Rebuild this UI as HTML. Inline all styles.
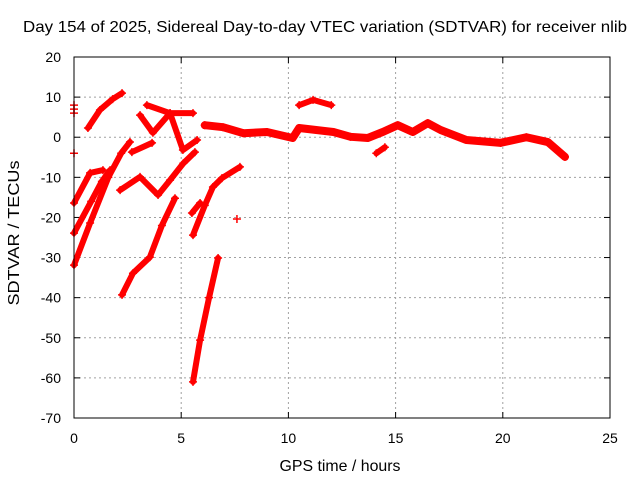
<!DOCTYPE html>
<html><head><meta charset="utf-8"><style>
html,body{margin:0;padding:0;background:#fff;}
svg{display:block;font-family:"Liberation Sans",sans-serif;}
</style></head><body>
<svg id="chart" width="640" height="480">
<text x="325" y="32" font-size="16" text-anchor="middle" textLength="604" lengthAdjust="spacingAndGlyphs">Day 154 of 2025, Sidereal Day-to-day VTEC variation (SDTVAR) for receiver nlib</text>
<text x="340" y="471" font-size="16" text-anchor="middle" textLength="121" lengthAdjust="spacingAndGlyphs">GPS time / hours</text>
<text transform="translate(19,233) rotate(-90)" font-size="16" text-anchor="middle" textLength="145" lengthAdjust="spacingAndGlyphs">SDTVAR / TECUs</text>
<g id="grid"></g><g id="axes"></g><g id="marks"></g>
<rect x="74" y="57" width="536" height="361" fill="none" stroke="#000" stroke-width="1"/>
</svg>
<script>
const xTicks=[0,5,10,15,20,25];
const yTicks=[20,10,0,-10,-20,-30,-40,-50,-60,-70];
const track1=[[0.65,2.3],[1.21,6.8],[1.8,9.5],[2.24,11]];
const track2=[[0,-31.9],[0.75,-21.4],[1.6,-10],[2.2,-4],[2.61,-1.2]];
const track3=[[0,-23.9],[0.8,-16],[1.3,-11],[1.68,-8.2]];
const track4=[[0,-16.4],[0.75,-8.9],[1.35,-8.2]];
const track5=[[0,8],[0,7],[0,6],[0,-4]];
const track6=[[2.15,-13.2],[3.08,-9.9],[3.92,-14.4],[4.48,-10.7],[5.1,-6.5],[5.64,-3.7]];
const track7=[[2.7,-3.7],[3.64,-1.4]];
const track8=[[3.4,8.0],[4.48,6.0],[5.55,6.0]];
const track8b=[[3.08,5.5],[3.68,1.1],[4.48,6.0],[5.08,-3.2],[5.74,-0.7]];
const track9=[[2.24,-39.3],[2.75,-33.9],[3.54,-29.9],[4.1,-22],[4.71,-15.2]];
const track10=[[5.55,-24.4],[6.1,-17],[6.48,-12.4],[6.9,-10.2],[7.74,-7.4]];
const track11=[[5.5,-18.9],[5.88,-16.4]];
const track12=[[7.6,-20.4]];
const track13=[[5.55,-61.0],[5.88,-50.6],[6.3,-40],[6.72,-30.1]];
const track14=[[6.1,3.0],[6.95,2.5],[7.9,1.0],[9.0,1.3],[10.2,-0.2],[10.5,2.3],[12.1,1.3],[12.9,0.1],[13.7,-0.2],[14.4,1.3],[15.1,3.0],[15.8,1.3],[16.5,3.5],[17.1,1.8],[18.3,-0.7],[19.9,-1.4],[21.1,0.0],[22.1,-1.2],[22.9,-4.9]];
const track15=[[10.5,8.0],[11.15,9.3],[12.0,8.0]];
const track16=[[14.1,-4.0],[14.5,-2.5]];
const tracks=[track1,track2,track3,track4,track5,track6,track7,track8,track8b,track9,track10,track11,track12,track13,track14,track15,track16];
const scatterOnly=[track5,track12];

const X0=74,X1=610,Y0=418,Y1=57;
function xs(v){return X0+(v-0)/(25-0)*(X1-X0);}
function ys(v){return Y0-(v-(-70))/(20-(-70))*(Y0-Y1);}
const NS="http://www.w3.org/2000/svg";
function mk(tag,attrs,parent){const e=document.createElementNS(NS,tag);for(const k in attrs)e.setAttribute(k,attrs[k]);parent.appendChild(e);return e;}
const grid=document.getElementById('grid'),axes=document.getElementById('axes'),marks=document.getElementById('marks');
xTicks.forEach(t=>{
 const x=xs(t);
 if(t>0&&t<25){const g=mk('line',{x1:x,x2:x,y1:Y1,y2:Y0,stroke:'#a0a0a0','stroke-dasharray':'2,3'},grid);
 
 }
 mk('line',{x1:x,x2:x,y1:Y0,y2:Y0-6,stroke:'#000'},axes);
 mk('line',{x1:x,x2:x,y1:Y1,y2:Y1+6,stroke:'#000'},axes);
 const l=mk('text',{x:x,y:443,'font-size':14,'text-anchor':'middle'},axes);l.textContent=t;
 
 
});
yTicks.forEach(t=>{
 const y=ys(t);
 if(t<20&&t>-70){const g=mk('line',{x1:X0,x2:X1,y1:y,y2:y,stroke:'#a0a0a0','stroke-dasharray':'2,3'},grid);
 
 }
 mk('line',{x1:X0,x2:X0+6,y1:y,y2:y,stroke:'#000'},axes);
 mk('line',{x1:X1,x2:X1-6,y1:y,y2:y,stroke:'#000'},axes);
 const l=mk('text',{x:61,y:y+5,'font-size':14,'text-anchor':'end'},axes);l.textContent=t;
 
 
});
tracks.forEach((tr,i)=>{
 const g=mk('g',{},marks);
 
 
 if(tr.length>1&&scatterOnly.indexOf(tr)<0){
  const pl=mk('polyline',{points:tr.map(p=>xs(p[0])+','+ys(p[1])).join(' '),fill:'none',stroke:'#f00','stroke-width':(tr===track14?8:6),'stroke-linejoin':'round','stroke-linecap':'round'},g);
  
  
 }
 tr.forEach(p=>{
  const x=xs(p[0]),y=ys(p[1]);
  const m=mk('path',{d:`M${x-4},${y}H${x+4}M${x},${y-4}V${y+4}`,stroke:'#f00','stroke-width':1.5},g);
  
  
 });
});
</script>
</body></html>
